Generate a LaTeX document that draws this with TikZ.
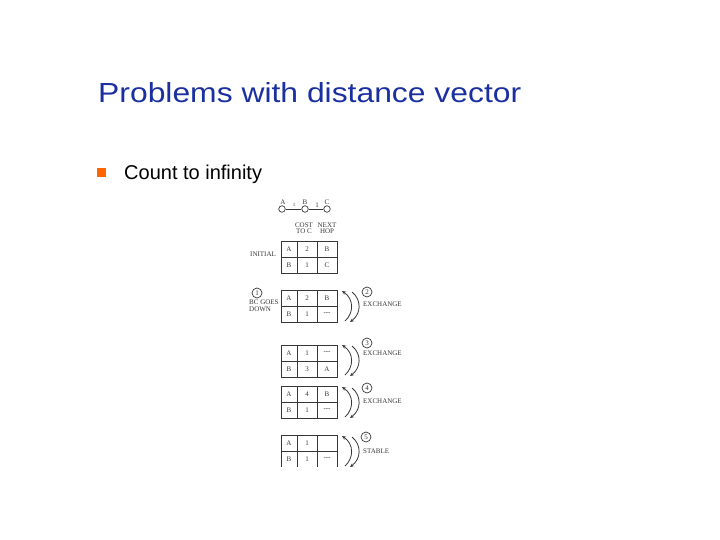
\documentclass[tikz,border=0pt]{standalone}
\usepackage{fontspec}
\setmainfont{Liberation Sans}
\newfontfamily\dgfont{Liberation Serif}
\usetikzlibrary{arrows.meta}
\definecolor{titleblue}{RGB}{26,48,160}
\definecolor{bulletorange}{RGB}{255,102,0}
\definecolor{dgray}{RGB}{55,55,55}
% table: #1 name, #2 top y, #3 A cost, #4 A hop, #5 B cost, #6 B hop
\newcommand\dvtable[6]{%
  \draw[tline] (281,{#2+32}) -- (281,#2) -- (337,#2) -- (337,{#2+32}) -- cycle;
  \draw[tline] (297,#2) -- (297,{#2+32});
  \draw[tline] (317,#2) -- (317,{#2+32});
  \draw[tline] (281,{#2+16}) -- (337,{#2+16});
  \node[lbl] (#1ra) at (289,{#2+8}) {A};
  \node[lbl] (#1ac) at (307,{#2+8}) {#3};
  \node[lbl] (#1ah) at (327,{#2+8}) {#4};
  \node[lbl] (#1rb) at (289,{#2+24}) {B};
  \node[lbl] (#1bc) at (307,{#2+24}) {#5};
  \node[lbl] (#1bh) at (327,{#2+24}) {#6};
}
\newcommand\dvarcs[1]{%
  \draw[arcline, {Stealth[length=4pt,width=3.5pt]}-] (342,{#1+1}) .. controls (354,{#1+9}) and (354,{#1+23}) .. (345,{#1+31});
  \draw[arcline, -{Stealth[length=4pt,width=3.5pt]}] (352,{#1+2}) .. controls (362,{#1+10}) and (361,{#1+24}) .. (350,{#1+32});
}
\begin{document}
\begin{tikzpicture}[x=1pt,y=-1pt,
  lbl/.style={font=\dgfont\fontsize{7}{7}\selectfont, text=dgray, inner sep=0},
  tline/.style={draw=dgray, line width=0.8pt},
  arcline/.style={draw=dgray, line width=0.8pt},
  cnum/.style={circle, draw=dgray, line width=0.7pt, minimum size=10pt, inner sep=0, font=\dgfont\fontsize{7}{7}\selectfont, text=dgray},
  hnode/.style={circle, draw=dgray, line width=0.7pt, minimum size=6.5pt, inner sep=0}]
\useasboundingbox (0,0) rectangle (720,540);

% title
\node[anchor=base west, inner sep=0, text=titleblue] (title) at (98,103)
  {\resizebox{423pt}{20pt}{Problems with distance vector}};

% bullet
\node[fill=bulletorange, minimum width=9pt, minimum height=8.5pt, inner sep=0] (bul) at (101.5,172.5) {};
\node[anchor=base west, inner sep=0, font=\fontsize{20}{24}\selectfont] (btext) at (124,180) {Count to infinity};

% topology
\node[hnode] (na) at (282,209) {};
\node[hnode] (nb) at (305,209) {};
\node[hnode] (nc) at (327,209) {};
\draw[tline] (na) -- (nb);
\draw[tline] (nb) -- (nc);
\node[lbl] (la) at (283,202) {A};
\node[lbl] (lb) at (305,202) {B};
\node[lbl] (lc) at (327,202) {C};
\node[lbl, font=\dgfont\fontsize{5}{5}\selectfont] (lab) at (294,205) {1};
\node[lbl] (lbc) at (317,205) {1};

% headers
\node[lbl, align=center] (hcost) at (304,228) {COST\\[-0.5pt]TO C};
\node[lbl, align=center] (hnext) at (327,228) {NEXT\\[-0.5pt]HOP};

% tables
\dvtable{ta}{241}{2}{B}{1}{C}
\node[lbl, anchor=west] (init) at (250,254) {INITIAL};

\dvtable{tb}{290}{2}{B}{1}{---}
\node[cnum] (c1) at (257,293) {1};
\node[lbl, anchor=north west, align=left] (down) at (249,300) {BC GOES\\[-0.5pt]DOWN};
\dvarcs{290}
\node[cnum] (c2) at (367,292) {2};
\node[lbl, anchor=west] (ex2) at (363,304) {EXCHANGE};

\dvtable{tc}{345}{1}{---}{3}{A}
\dvarcs{344}
\node[cnum] (c3) at (367,343) {3};
\node[lbl, anchor=west] (ex3) at (363,353) {EXCHANGE};

\dvtable{td}{386}{4}{B}{1}{---}
\dvarcs{386}
\node[cnum] (c4) at (367,388) {4};
\node[lbl, anchor=west] (ex4) at (363,401) {EXCHANGE};

% last table (cut at bottom)
\draw[tline] (281,467) -- (281,435) -- (337,435) -- (337,467);
\draw[tline] (297,435) -- (297,467);
\draw[tline] (317,435) -- (317,467);
\draw[tline] (281,451) -- (337,451);
\node[lbl] (tera) at (289,443) {A};
\node[lbl] (teac) at (307,443) {1};
\node[lbl] (terb) at (289,459) {B};
\node[lbl] (tebc) at (307,459) {1};
\node[lbl] (tebh) at (327,459) {---};
\draw[arcline, {Stealth[length=4pt,width=3.5pt]}-] (342,436) .. controls (354,444) and (354,458) .. (345,466);
\draw[arcline, -{Stealth[length=4pt,width=3.5pt]}] (352,437) .. controls (362,445) and (361,459) .. (350,467);
\node[cnum] (c5) at (366,437) {5};
\node[lbl, anchor=west] (st) at (363,451) {STABLE};
\end{tikzpicture}
\end{document}
